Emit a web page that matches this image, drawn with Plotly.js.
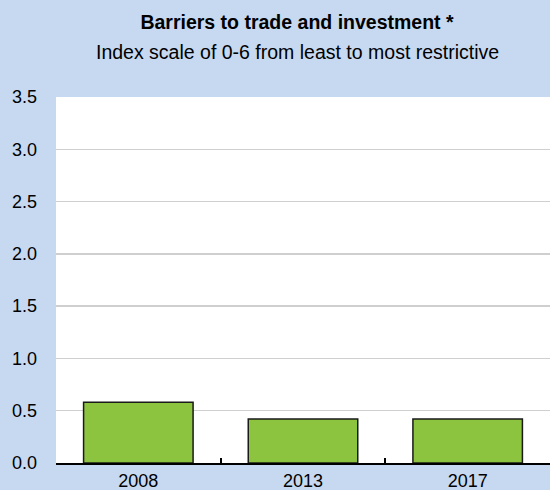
<!DOCTYPE html>
<html>
<head>
<meta charset="utf-8">
<script src="https://cdn.plot.ly/plotly-3.0.1.min.js"></script>
<style>html,body{margin:0;padding:0;background:#c6d9f1;}#chart{width:550px;height:490px;}</style>
</head>
<body>
<div id="chart"></div>
<script>
const categories = ["2008", "2013", "2017"];
const values = [0.58, 0.42, 0.42];
const yTickVals = [0, 0.5, 1, 1.5, 2, 2.5, 3, 3.5];
const yTickText = ["0.0", "0.5", "1.0", "1.5", "2.0", "2.5", "3.0", "3.5"];
const titleText = "Barriers to trade and investment *";
const subtitleText = "Index scale of 0-6 from least to most restrictive";

const FONT = "'Liberation Sans', Arial, sans-serif";

const data = [{
  type: "bar",
  x: categories,
  y: values,
  width: 0.665,
  marker: {color: "#8cc43f", line: {color: "#1a1a1a", width: 1.5}},
  hoverinfo: "x+y"
}];

const layout = {
  width: 550,
  height: 490,
  paper_bgcolor: "#c6d9f1",
  plot_bgcolor: "#ffffff",
  margin: {l: 56, r: 0, t: 97, b: 27, pad: 0},
  showlegend: false,
  font: {family: FONT, size: 18, color: "#000000"},
  title: {
    text: "<b>" + titleText + "</b>",
    font: {family: FONT, size: 19.5, color: "#000000"},
    x: (297 - 56) / 494, xref: "paper", xanchor: "center",
    y: 1 - 22.5 / 490, yref: "container", yanchor: "middle"
  },
  annotations: [{
    text: subtitleText,
    xref: "paper", yref: "paper",
    x: (297 - 56) / 494, y: 1.0 + (97 - 52) / 366,
    xanchor: "center", yanchor: "middle",
    showarrow: false,
    font: {family: FONT, size: 19.5, color: "#000000"}
  }],
  xaxis: {
    type: "category",
    range: [-0.5, 2.5],
    showline: true, linecolor: "#000000", linewidth: 2,
    ticks: "inside", tickson: "boundaries", ticklen: 5, tickcolor: "#000000", tickwidth: 2,
    showgrid: false, zeroline: false,
    tickfont: {family: FONT, size: 18, color: "#000000"},
    fixedrange: true
  },
  yaxis: {
    range: [0, 3.5],
    tickvals: yTickVals,
    ticktext: yTickText,
    showgrid: true, gridcolor: "#cfcfcf", gridwidth: 1.5,
    zeroline: false, showline: false, ticks: "",
    ticklabelstandoff: 18,
    tickfont: {family: FONT, size: 18, color: "#000000"},
    fixedrange: true
  },
  bargap: 0.33
};

Plotly.newPlot("chart", data, layout, {displayModeBar: false, staticPlot: true});
</script>
</body>
</html>
